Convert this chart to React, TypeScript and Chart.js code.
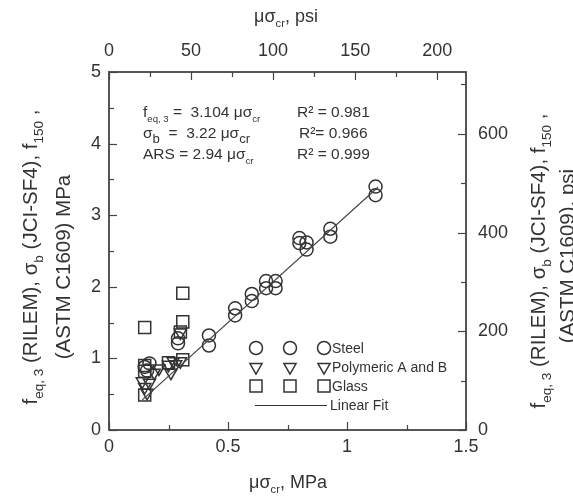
import React, { useEffect, useRef } from 'react';
import { Chart, registerables } from 'chart.js';

Chart.register(...registerables);

// ---------- data ----------
const MPA_TO_PSI = 145.038;

const steelX = [0.15, 0.17, 0.16, 0.29, 0.29, 0.42, 0.42, 0.53, 0.53, 0.6, 0.6, 0.66, 0.66, 0.7, 0.7, 0.8, 0.8, 0.83, 0.83, 0.93, 0.93, 1.12, 1.12];
const steelY = [0.88, 0.93, 0.83, 1.28, 1.21, 1.32, 1.18, 1.7, 1.6, 1.9, 1.8, 2.08, 1.98, 2.08, 1.98, 2.68, 2.61, 2.62, 2.52, 2.81, 2.7, 3.4, 3.28];

const polyX = [0.14, 0.17, 0.15, 0.16, 0.19, 0.21, 0.25, 0.26, 0.27, 0.28, 0.3, 0.3];
const polyY = [0.68, 0.66, 0.6, 0.52, 0.8, 0.86, 0.91, 0.8, 0.96, 0.92, 1.36, 0.96];

const glassX = [0.15, 0.31, 0.31, 0.15, 0.15, 0.15, 0.25, 0.31, 0.3];
const glassY = [1.43, 1.91, 1.51, 0.9, 0.82, 0.49, 0.94, 0.98, 1.37];

const fitX = [0.14, 1.13];
const fitY = [0.42, 3.39];

const xMajor = [0, 0.5, 1, 1.5];
const xMinor = [0.25, 0.75, 1.25];
const yMajor = [0, 1, 2, 3, 4, 5];
const yMinor = [0.5, 1.5, 2.5, 3.5, 4.5];
const x2Major = [0, 50, 100, 150, 200];
const x2Minor = [25, 75, 125, 175];
const y2Major = [0, 200, 400, 600];
const y2Minor = [100, 300, 500, 700];

const legendLabels = ['Steel', 'Polymeric A and B', 'Glass', 'Linear Fit'];

// ---------- styles ----------
const FAMILY = '"Liberation Sans", Arial, Helvetica, sans-serif';
const INK = '#333333';
const AXIS = '#444444';

type Seg = { t: string; sub?: boolean; big?: boolean };

function drawRich(ctx: CanvasRenderingContext2D, segs: Seg[], x: number, y: number, size: number, align: 'left' | 'center', subRatio = 0.62) {
  const subSize = size * subRatio;
  const bigSub = size * 0.85;
  const fontFor = (s: Seg) => `${s.sub ? (s.big ? bigSub : subSize) : size}px ${FAMILY}`;
  let total = 0;
  for (const s of segs) {
    ctx.font = fontFor(s);
    total += ctx.measureText(s.t).width;
  }
  let cx = align === 'center' ? x - total / 2 : x;
  ctx.textAlign = 'left';
  ctx.textBaseline = 'alphabetic';
  for (const s of segs) {
    ctx.font = fontFor(s);
    ctx.fillText(s.t, cx, y + (s.sub ? size * 0.3 : 0));
    cx += ctx.measureText(s.t).width;
  }
}

function marker(ctx: CanvasRenderingContext2D, kind: string, x: number, y: number) {
  ctx.beginPath();
  if (kind === 'circle') {
    ctx.arc(x, y, 6.5, 0, Math.PI * 2);
  } else if (kind === 'tri') {
    const r = 7;
    ctx.moveTo(x, y + r);
    ctx.lineTo(x - r * 0.866, y - r * 0.5);
    ctx.lineTo(x + r * 0.866, y - r * 0.5);
    ctx.closePath();
  } else {
    ctx.rect(x - 6, y - 6, 12, 12);
  }
  ctx.stroke();
}

const overlay = {
  id: 'overlay',
  afterDraw(chart: any) {
    const { ctx, chartArea: a, scales } = chart;
    ctx.save();
    // frame
    ctx.strokeStyle = AXIS;
    ctx.lineWidth = 1.8;
    ctx.strokeRect(a.left, a.top, a.right - a.left, a.bottom - a.top);
    // ticks (inward)
    ctx.lineWidth = 1.2;
    const vt = (scale: any, vals: number[], len: number, edge: number, dir: number) => {
      for (const v of vals) {
        const p = Math.round(scale.getPixelForValue(v)) + 0.5;
        ctx.beginPath();
        ctx.moveTo(p, edge);
        ctx.lineTo(p, edge + dir * len);
        ctx.stroke();
      }
    };
    const ht = (scale: any, vals: number[], len: number, edge: number, dir: number) => {
      for (const v of vals) {
        const p = Math.round(scale.getPixelForValue(v)) + 0.5;
        ctx.beginPath();
        ctx.moveTo(edge, p);
        ctx.lineTo(edge + dir * len, p);
        ctx.stroke();
      }
    };
    vt(scales.x, xMajor, 8, a.bottom, -1);
    vt(scales.x, xMinor, 5, a.bottom, -1);
    vt(scales.x2, x2Major, 8, a.top, 1);
    vt(scales.x2, x2Minor, 5, a.top, 1);
    ht(scales.y, yMajor, 8, a.left, 1);
    ht(scales.y, yMinor, 5, a.left, 1);
    ht(scales.y2, y2Major, 8, a.right, -1);
    ht(scales.y2, y2Minor, 5, a.right, -1);

    ctx.fillStyle = INK;
    // axis titles
    drawRich(ctx, [{ t: 'μσ' }, { t: 'cr', sub: true }, { t: ', MPa' }], 288, 488, 18, 'center');
    drawRich(ctx, [{ t: 'μσ' }, { t: 'cr', sub: true }, { t: ', psi' }], 286, 22, 18, 'center');

    const tsz = 20.5;
    const title1: Seg[] = [
      { t: 'f' }, { t: 'eq, 3', sub: true }, { t: ' (RILEM), σ' }, { t: 'b', sub: true },
      { t: ' (JCI-SF4), f' }, { t: '150', sub: true }, { t: ' ,' },
    ];
    ctx.save();
    ctx.translate(37, 257);
    ctx.rotate(-Math.PI / 2);
    drawRich(ctx, title1, 0, 0, tsz, 'center', 0.66);
    drawRich(ctx, [{ t: '(ASTM C1609) MPa' }], -10, 33, tsz, 'center');
    ctx.restore();

    ctx.save();
    ctx.translate(545, 261);
    ctx.rotate(-Math.PI / 2);
    drawRich(ctx, title1, 0, 0, tsz, 'center', 0.66);
    drawRich(ctx, [{ t: '(ASTM C1609), psi' }], 5, 29, tsz, 'center');
    ctx.restore();

    // annotation
    const asz = 15.5;
    drawRich(ctx, [{ t: 'f' }, { t: 'eq, 3', sub: true }, { t: ' =  3.104 μσ' }, { t: 'cr', sub: true }], 143, 117, asz, 'left');
    drawRich(ctx, [{ t: 'σ' }, { t: 'b', sub: true, big: true }, { t: '  =  3.22 μσ' }, { t: 'cr', sub: true, big: true }], 143, 138, asz, 'left');
    drawRich(ctx, [{ t: 'ARS = 2.94 μσ' }, { t: 'cr', sub: true }], 143, 159, asz, 'left');
    drawRich(ctx, [{ t: 'R² = 0.981' }], 297, 117, asz, 'left');
    drawRich(ctx, [{ t: 'R²= 0.966' }], 299, 138, asz, 'left');
    drawRich(ctx, [{ t: 'R² = 0.999' }], 297, 159, asz, 'left');

    // legend
    ctx.strokeStyle = INK;
    ctx.lineWidth = 1.5;
    const kinds = ['circle', 'tri', 'square'];
    const rows = [348, 367, 386];
    const cols = [256, 290, 324];
    kinds.forEach((k, i) => {
      cols.forEach((c) => marker(ctx, k, c, rows[i]));
      drawRich(ctx, [{ t: legendLabels[i] }], 332, rows[i] + 5, 14, 'left');
    });
    ctx.lineWidth = 1.1;
    ctx.beginPath();
    ctx.moveTo(255, 405.5);
    ctx.lineTo(327, 405.5);
    ctx.stroke();
    drawRich(ctx, [{ t: legendLabels[3] }], 330, 410, 14, 'left');
    ctx.restore();
  },
};

const pts = (xs: number[], ys: number[]) => xs.map((x, i) => ({ x, y: ys[i] }));
const tickFont = { size: 18, family: FAMILY };

export default function App() {
  const ref = useRef<HTMLCanvasElement>(null);
  useEffect(() => {
    const chart = new Chart(ref.current as HTMLCanvasElement, {
      type: 'scatter',
      data: {
        datasets: [
          {
            label: 'Linear Fit',
            type: 'line',
            data: pts(fitX, fitY),
            borderColor: '#444',
            borderWidth: 1.2,
            pointRadius: 0,
            fill: false,
          } as any,
          {
            label: 'Steel',
            data: pts(steelX, steelY),
            pointStyle: 'circle',
            pointRadius: 6.5,
            borderColor: INK,
            backgroundColor: 'rgba(0,0,0,0)',
            borderWidth: 1.5,
          },
          {
            label: 'Polymeric A and B',
            data: pts(polyX, polyY),
            pointStyle: 'triangle',
            pointRotation: 180,
            pointRadius: 7,
            borderColor: INK,
            backgroundColor: 'rgba(0,0,0,0)',
            borderWidth: 1.5,
          },
          {
            label: 'Glass',
            data: pts(glassX, glassY),
            pointStyle: 'rect',
            pointRadius: 8.5,
            borderColor: INK,
            backgroundColor: 'rgba(0,0,0,0)',
            borderWidth: 1.5,
          },
        ],
      },
      options: {
        animation: false,
        responsive: false,
        devicePixelRatio: 1,
        layout: { padding: 0 },
        plugins: { legend: { display: false }, tooltip: { enabled: false } },
        scales: {
          x: {
            type: 'linear',
            position: 'bottom',
            min: 0,
            max: 1.5,
            afterBuildTicks: (s: any) => { s.ticks = xMajor.map((v) => ({ value: v })); },
            afterFit: (s: any) => { s.height = 66; },
            ticks: { font: tickFont, color: INK, padding: 6, maxRotation: 0, autoSkip: false, callback: (v: any) => String(v) },
            grid: { display: false, drawTicks: false },
            border: { display: false },
          },
          x2: {
            type: 'linear',
            position: 'top',
            min: 0,
            max: 1.5 * MPA_TO_PSI,
            afterBuildTicks: (s: any) => { s.ticks = x2Major.map((v) => ({ value: v })); },
            afterFit: (s: any) => { s.height = 72; },
            ticks: { font: tickFont, color: INK, padding: 10, maxRotation: 0, autoSkip: false, callback: (v: any) => String(v) },
            grid: { display: false, drawTicks: false },
            border: { display: false },
          },
          y: {
            type: 'linear',
            position: 'left',
            min: 0,
            max: 5,
            afterBuildTicks: (s: any) => { s.ticks = yMajor.map((v) => ({ value: v })); },
            afterFit: (s: any) => { s.width = 109; },
            ticks: { font: tickFont, color: INK, padding: 8, autoSkip: false, callback: (v: any) => String(v) },
            grid: { display: false, drawTicks: false },
            border: { display: false },
          },
          y2: {
            type: 'linear',
            position: 'right',
            min: 0,
            max: 5 * MPA_TO_PSI,
            afterBuildTicks: (s: any) => { s.ticks = y2Major.map((v) => ({ value: v })); },
            afterFit: (s: any) => { s.width = 107; },
            ticks: { font: tickFont, color: INK, padding: 12, autoSkip: false, callback: (v: any) => String(v) },
            grid: { display: false, drawTicks: false },
            border: { display: false },
          },
        },
      },
      plugins: [overlay],
    } as any);
    return () => chart.destroy();
  }, []);
  return (
    <div style={{ position: 'fixed', left: 0, top: 0, width: 573, height: 496, background: '#fff' }}>
      <canvas ref={ref} width={573} height={496} style={{ display: 'block', width: 573, height: 496 }} />
    </div>
  );
}
